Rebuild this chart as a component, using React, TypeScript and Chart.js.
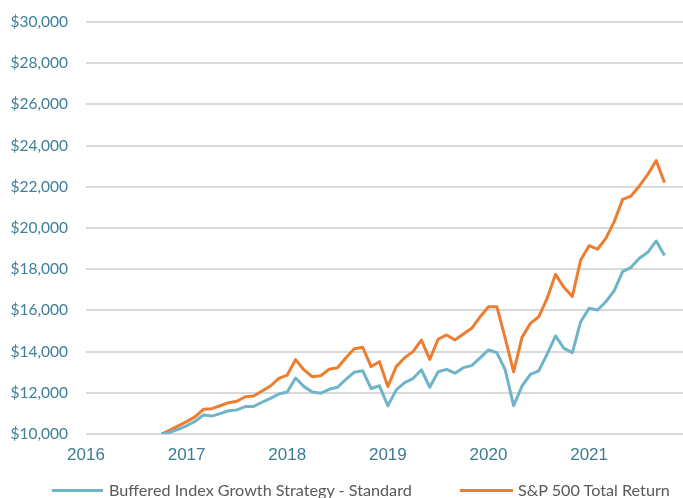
import React, { useEffect, useRef } from "react";
import { Chart, registerables } from "chart.js";

Chart.register(...registerables);

// Month index 0 = Jan 2016; series start at month 9 (Sep 2016 month-end)
const startMonth = 9;
const axisStartYear = 2016;
const axisEndMonth = 71.2;
const yearTickMonths = [0, 12, 24, 36, 48, 60];

const seriesNames = ["Buffered Index Growth Strategy - Standard", "S&P 500 Total Return"];

const bufferedValues = [
  10000, 10080, 10230, 10400, 10610, 10920, 10870, 10990, 11130, 11170,
  11330, 11340, 11540, 11730, 11940, 12040, 12720, 12300, 12040, 11980,
  12170, 12270, 12650, 13000, 13070, 12210, 12340, 11370, 12140, 12490,
  12690, 13120, 12270, 13020, 13140, 12950, 13220, 13320, 13700, 14080,
  13950, 13110, 11370, 12330, 12890, 13070, 13880, 14760, 14160, 13950,
  15450, 16100, 16020, 16420, 16960, 17880, 18090, 18530, 18820, 19370,
  18660,
];

const sp500Values = [
  10000, 10190, 10390, 10600, 10830, 11200, 11230, 11370, 11520, 11590,
  11810, 11840, 12090, 12330, 12700, 12860, 13610, 13110, 12780, 12830,
  13140, 13220, 13700, 14140, 14210, 13270, 13510, 12300, 13270, 13700,
  14000, 14560, 13620, 14600, 14810, 14560, 14850, 15130, 15690, 16180,
  16180, 14640, 13020, 14690, 15370, 15690, 16590, 17750, 17120, 16670,
  18450, 19140, 18970, 19500, 20310, 21390, 21550, 22040, 22600, 23270,
  22200,
];

const yMin = 10000;
const yMax = 30000;
const yStep = 2000;

const blue = "#6FB4C9";
const orange = "#ED7D31";
const tickBlue = "#3E7F99";

const toPoints = (vals: number[]) => vals.map((v, i) => ({ x: startMonth + i, y: v }));

export default function App() {
  const ref = useRef<HTMLCanvasElement | null>(null);

  useEffect(() => {
    if (!ref.current) return;
    const chart = new Chart(ref.current, {
      type: "line",
      data: {
        datasets: [
          {
            label: seriesNames[0],
            data: toPoints(bufferedValues),
            borderColor: blue,
            backgroundColor: blue,
            borderWidth: 3,
            pointRadius: 0,
            tension: 0,
            borderJoinStyle: "round",
          },
          {
            label: seriesNames[1],
            data: toPoints(sp500Values),
            borderColor: orange,
            backgroundColor: orange,
            borderWidth: 3,
            pointRadius: 0,
            tension: 0,
            borderJoinStyle: "round",
          },
        ],
      },
      options: {
        animation: false,
        responsive: false,
        maintainAspectRatio: false,
        layout: { padding: { top: 22, left: 0, right: 0, bottom: 0 } },
        plugins: { legend: { display: false }, tooltip: { enabled: false } },
        scales: {
          x: {
            type: "linear",
            min: 0,
            max: axisEndMonth,
            grid: { display: false, drawTicks: false },
            border: { display: false },
            afterBuildTicks: (s: any) => {
              s.ticks = yearTickMonths.map((v) => ({ value: v }));
            },
            afterFit: (s: any) => {
              s.height = 64;
              s.paddingLeft = 0;
              s.paddingRight = 0;
            },
            ticks: {
              padding: 11,
              color: "#3B7B95",
              font: { family: "'Liberation Sans', Arial, sans-serif", size: 17 },
              callback: (v: any) => String(axisStartYear + Math.round(Number(v) / 12)),
              maxRotation: 0,
              autoSkip: false,
            },
          },
          y: {
            min: yMin,
            max: yMax,
            grid: { color: "#D9D9D9", lineWidth: 2, drawTicks: false },
            border: { display: false },
            afterFit: (s: any) => {
              s.width = 86;
              s.paddingTop = 0;
              s.paddingBottom = 0;
            },
            ticks: {
              stepSize: yStep,
              padding: 18,
              color: tickBlue,
              font: { family: "Lato, 'Open Sans', sans-serif", size: 15.5 },
              callback: (v: any) => "$" + Number(v).toLocaleString("en-US"),
            },
          },
        },
      },
    });
    return () => chart.destroy();
  }, []);

  const legendText: React.CSSProperties = {
    position: "absolute",
    top: 480,
    height: 20,
    lineHeight: "20px",
    fontFamily: "Lato, 'Open Sans', sans-serif",
    fontSize: 16.2,
    color: "#595959",
    whiteSpace: "nowrap",
  };
  const legendLine = (left: number, width: number, color: string): React.CSSProperties => ({
    position: "absolute",
    left,
    top: 489,
    width,
    height: 3,
    background: color,
  });

  return (
    <div style={{ position: "absolute", left: 0, top: 0, width: 683, height: 498, background: "#fff", overflow: "hidden" }}>
      <canvas ref={ref} width={683} height={498} style={{ display: "block", width: 683, height: 498 }} />
      <div style={legendLine(52, 51, blue)} />
      <div style={{ ...legendText, left: 109 }}>{seriesNames[0]}</div>
      <div style={legendLine(460, 53, orange)} />
      <div style={{ ...legendText, left: 518 }}>{seriesNames[1]}</div>
    </div>
  );
}
